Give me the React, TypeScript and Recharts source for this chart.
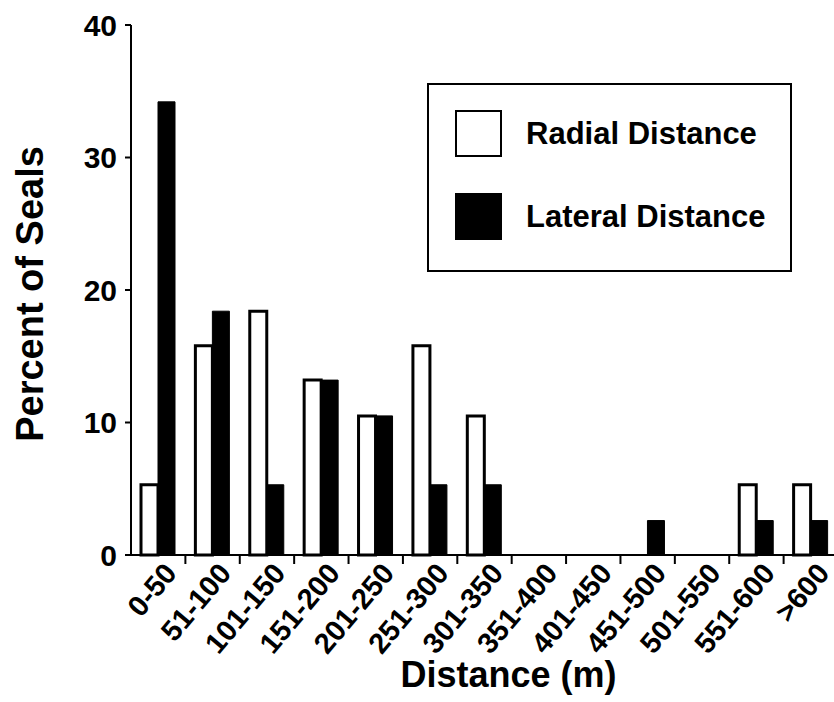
import { BarChart, Bar, XAxis, YAxis, Legend } from 'recharts';

// distance classes (m)
const categories = [
  '0-50', '51-100', '101-150', '151-200', '201-250', '251-300', '301-350',
  '351-400', '401-450', '451-500', '501-550', '551-600', '>600',
];

// percent of seals
const radialPct = [5.3, 15.8, 18.4, 13.2, 10.5, 15.8, 10.5, 0, 0, 0, 0, 5.3, 5.3];
const lateralPct = [34.2, 18.4, 5.3, 13.2, 10.5, 5.3, 5.3, 0, 0, 2.6, 0, 2.6, 2.6];

const yTicks = [0, 10, 20, 30, 40];
const seriesNames = ['Radial Distance', 'Lateral Distance'];

const FONT = '"Liberation Sans", Arial, Helvetica, sans-serif';

const data = categories.map((range, i) => ({
  range,
  radial: radialPct[i],
  lateral: lateralPct[i],
}));

function XTick(props: any) {
  const { x, y, payload, index } = props;
  const half = payload?.offset ?? 27;
  return (
    <g>
      {index > 0 && (
        <line x1={x - half} x2={x - half} y1={y} y2={y + 9} stroke="#000" strokeWidth={2} />
      )}
      <text
        transform={`translate(${x + 20},${y + 19}) rotate(-50)`}
        textAnchor="end"
        fontSize={29}
        fontWeight="bold"
        fontFamily={FONT}
        fill="#000"
      >
        {payload.value}
      </text>
    </g>
  );
}

function YTitle(props: any) {
  const vb = props.viewBox || { x: 0, y: 25, width: 131, height: 530 };
  const cx = vb.x + 43;
  const cy = vb.y + vb.height / 2 + 4;
  return (
    <text
      x={cx}
      y={cy}
      transform={`rotate(-90 ${cx} ${cy})`}
      textAnchor="middle"
      fontSize={38}
      fontWeight="bold"
      fontFamily={FONT}
      fill="#000"
    >
      Percent of Seals
    </text>
  );
}

function LegendBox({ payload }: any) {
  const items = [...(payload || [])].sort(
    (a: any, b: any) => seriesNames.indexOf(a.value) - seriesNames.indexOf(b.value)
  );
  return (
    <div
      style={{
        width: 365,
        height: 189,
        boxSizing: 'border-box',
        border: '2px solid #000',
        background: '#fff',
        paddingTop: 25,
        paddingLeft: 26,
        fontFamily: FONT,
      }}
    >
      {items.map((p: any, i: number) => (
        <div
          key={p.value}
          style={{ display: 'flex', alignItems: 'center', height: 47, marginBottom: i === 0 ? 36 : 0 }}
        >
          <div
            style={{
              width: 47,
              height: 47,
              boxSizing: 'border-box',
              border: '2px solid #000',
              background: p.color,
            }}
          />
          <span style={{ marginLeft: 24, fontSize: 31, fontWeight: 'bold', color: '#000' }}>{p.value}</span>
        </div>
      ))}
    </div>
  );
}

export default function App() {
  return (
    <div style={{ position: 'absolute', left: 0, top: 0, width: 834, height: 702, background: '#fff' }}>
      <BarChart
        width={834}
        height={702}
        data={data}
        margin={{ top: 25, right: -4, left: 0, bottom: 0 }}
        barGap={0}
        style={{ fontFamily: FONT }}
      >
        <XAxis
          dataKey="range"
          interval={0}
          height={147}
          tickSize={0}
          tickMargin={0}
          tick={<XTick />}
          axisLine={{ stroke: '#000', strokeWidth: 2 }}
          label={{
            value: 'Distance (m)',
            position: 'insideBottom',
            offset: 15,
            dx: 24,
            fontSize: 36,
            fontWeight: 'bold',
            fill: '#000',
            fontFamily: FONT,
          }}
        />
        <YAxis
          width={131}
          domain={[0, 40]}
          ticks={yTicks}
          tickSize={6}
          tickMargin={8}
          tick={{ fontSize: 30, fontWeight: 'bold', fill: '#000', fontFamily: FONT }}
          tickLine={{ stroke: '#000', strokeWidth: 2 }}
          axisLine={{ stroke: '#000', strokeWidth: 2 }}
          label={<YTitle />}
        />
        <Legend
          layout="horizontal"
          verticalAlign="middle"
          align="center"
          wrapperStyle={{ left: 427, top: 83, width: 365, height: 189 }}
          content={<LegendBox />}
        />
        <Bar
          dataKey="radial"
          name="Radial Distance"
          fill="#fff"
          stroke="#000"
          strokeWidth={3}
          barSize={17}
          isAnimationActive={false}
        />
        <Bar
          dataKey="lateral"
          name="Lateral Distance"
          fill="#000"
          stroke="#000"
          strokeWidth={1}
          barSize={17}
          isAnimationActive={false}
        />
      </BarChart>
    </div>
  );
}
